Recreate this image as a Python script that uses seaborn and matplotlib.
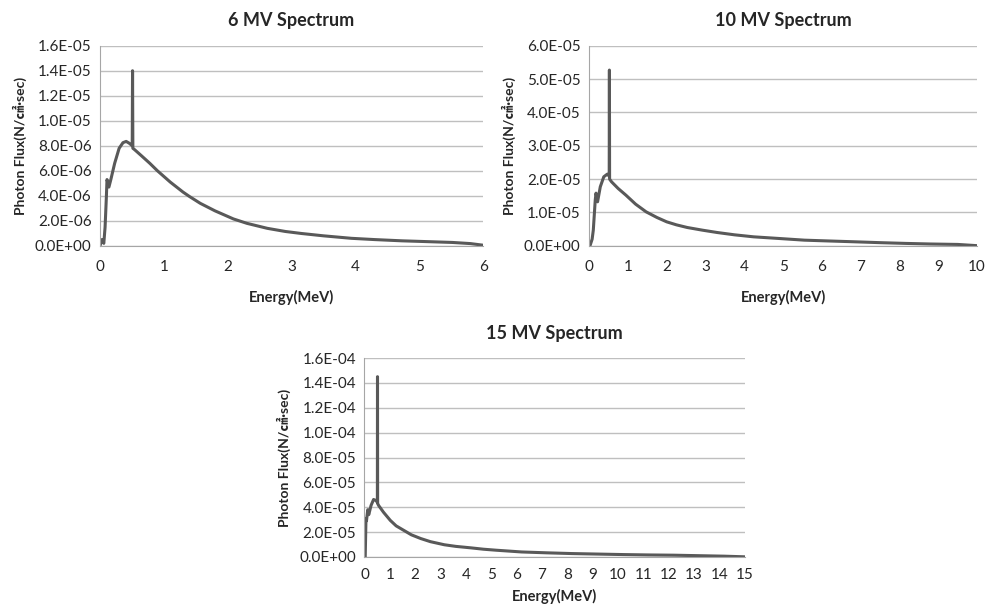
import seaborn as sns
import matplotlib.pyplot as plt
import pandas as pd
from matplotlib.ticker import FuncFormatter

# spectrum data (flux values in 1e-6 units)
e6 = [0.00, 0.03, 0.06, 0.08, 0.10, 0.11, 0.14, 0.17, 0.23, 0.30, 0.36, 0.41, 0.46, 0.505, 0.51, 0.515,
      0.54, 0.65, 0.78, 0.90, 1.00, 1.10, 1.20, 1.30, 1.40, 1.57, 1.80, 2.09, 2.30, 2.62, 2.90, 3.15,
      3.50, 3.94, 4.30, 4.73, 5.10, 5.52, 5.80, 6.00]
f6 = [0.0, 0.5, 0.2, 1.5, 3.9, 5.3, 4.7, 5.3, 6.6, 7.8, 8.25, 8.35, 8.2, 8.0, 14.0, 7.8,
      7.7, 7.2, 6.6, 6.0, 5.55, 5.1, 4.7, 4.3, 3.95, 3.4, 2.8, 2.15, 1.8, 1.4, 1.15, 0.99,
      0.8, 0.6, 0.5, 0.4, 0.34, 0.27, 0.18, 0.05]

e10 = [0.00, 0.03, 0.08, 0.11, 0.16, 0.18, 0.22, 0.29, 0.38, 0.47, 0.52, 0.525, 0.53, 0.58, 0.75,
       0.95, 1.20, 1.47, 1.75, 2.00, 2.25, 2.53, 2.92, 3.30, 3.75, 4.24, 4.90, 5.55, 6.20, 6.87,
       7.50, 8.18, 8.80, 9.50, 10.0]
f10 = [0.0, 0.2, 2.0, 4.7, 13.7, 15.8, 13.2, 17.7, 20.7, 21.5, 20.9, 52.7, 20.0, 19.2, 17.2,
       15.2, 12.5, 10.2, 8.5, 7.2, 6.3, 5.5, 4.7, 4.0, 3.3, 2.7, 2.2, 1.7, 1.45, 1.2,
       0.95, 0.72, 0.55, 0.42, 0.05]

e15 = [0.00, 0.03, 0.06, 0.08, 0.13, 0.17, 0.26, 0.36, 0.45, 0.51, 0.515, 0.52, 0.56, 0.75, 1.02,
       1.25, 1.55, 1.85, 2.22, 2.60, 3.15, 3.60, 4.20, 4.70, 5.20, 5.70, 6.20, 7.20, 8.20, 9.20,
       10.2, 11.2, 12.2, 13.2, 14.2, 15.0]
f15 = [0.0, 0.0, 30.7, 29.0, 38.0, 34.0, 41.4, 46.2, 45.4, 44.0, 145.0, 43.0, 41.4, 36.0, 29.4,
       25.0, 21.4, 17.8, 14.8, 12.3, 9.8, 8.5, 7.3, 6.2, 5.4, 4.7, 4.0, 3.3, 2.7, 2.3,
       1.9, 1.6, 1.4, 1.0, 0.6, 0.1]

titles = ["6 MV Spectrum", "10 MV Spectrum", "15 MV Spectrum"]
xmax = [6, 10, 15]
ymax = [1.6e-5, 6.0e-5, 1.6e-4]
ystep = [2e-6, 1e-5, 2e-5]

sns.set_style("white")
plt.rcParams['font.family'] = ['Lato', 'Noto Sans CJK JP', 'DejaVu Sans']

fig = plt.figure(figsize=(9.85, 6.1), dpi=100)
axes = [
    fig.add_axes([0.1015, 0.597, 0.389, 0.328]),
    fig.add_axes([0.598, 0.597, 0.394, 0.328]),
    fig.add_axes([0.370, 0.087, 0.386, 0.326]),
]

series = [(e6, f6), (e10, f10), (e15, f15)]
for i, ax in enumerate(axes):
    e, f = series[i]
    df = pd.DataFrame({"Energy": e, "Flux": [v * 1e-6 for v in f]})
    sns.lineplot(x="Energy", y="Flux", data=df, ax=ax, color="#595959", linewidth=2.2,
                 sort=False, estimator=None)
    ax.set_xlim(0, xmax[i])
    ax.set_ylim(0, ymax[i])
    ax.set_xticks(range(0, xmax[i] + 1))
    n = int(round(ymax[i] / ystep[i]))
    ax.set_yticks([k * ystep[i] for k in range(n + 1)])
    ax.yaxis.set_major_formatter(FuncFormatter(lambda v, p: f"{v:.1E}"))
    ax.grid(axis="y", color="#bfbfbf", linewidth=1.0)
    ax.set_axisbelow(True)
    for s in ["top", "right"]:
        ax.spines[s].set_visible(False)
    ax.spines["left"].set_color("#a6a6a6")
    ax.spines["bottom"].set_color("#a6a6a6")
    ax.tick_params(axis="y", length=4, color="#a6a6a6", labelsize=11, pad=2)
    # bottom panel sits close to the figure edge, so its labels are packed tighter
    ax.tick_params(axis="x", length=0, labelsize=11, pad=10 if i < 2 else 8)
    ax.set_title(titles[i], fontsize=13, fontweight="bold", pad=14)
    ax.set_xlabel("Energy(MeV)", fontsize=10.5, fontweight="bold", labelpad=12 if i < 2 else 5)
    ax.set_ylabel("Photon Flux(N/㎠·sec)", fontsize=10, fontweight="bold", labelpad=6)

plt.savefig("out.png", dpi=100)
